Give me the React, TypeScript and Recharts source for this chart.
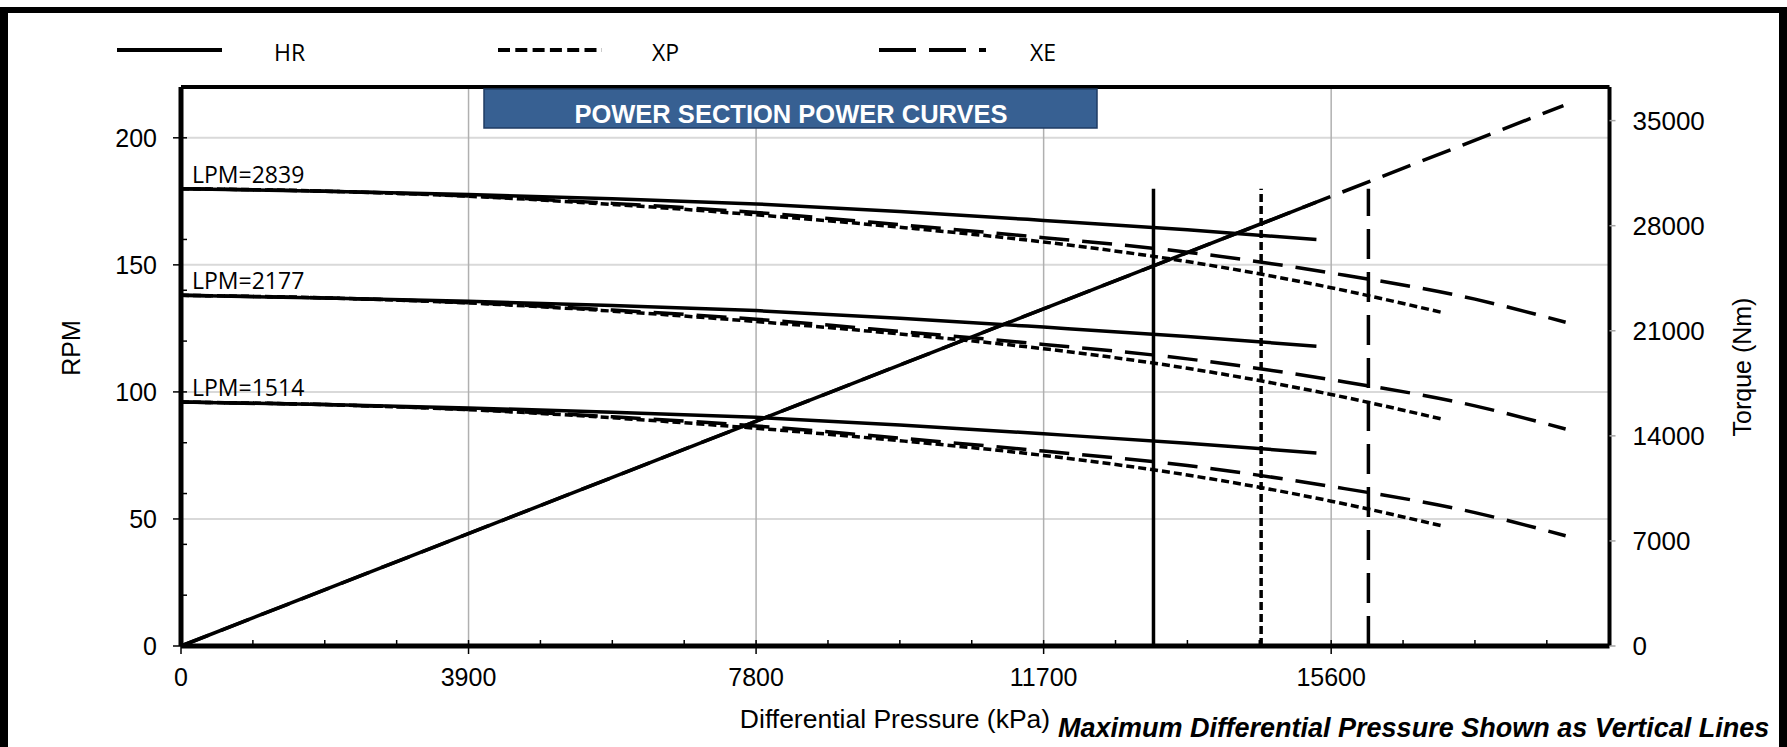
import React from 'react';
import { LineChart, Line, XAxis, YAxis, CartesianGrid, ReferenceLine } from 'recharts';

// pressure points (kPa)
const hrPressure = [0, 1950, 3900, 5850, 7800, 9750, 11700, 13650, 15400];
const xpPressure = [0, 1950, 3900, 5850, 7800, 9750, 11700, 13650, 15600, 17085];
const xePressure = [0, 1950, 3900, 5850, 7800, 9750, 11700, 13650, 15600, 17550, 18780];

// RPM per flow rate
const hrRpm2839 = [180, 179, 177.7, 176, 174, 171, 167.5, 163.8, 160];
const hrRpm2177 = [138, 137, 135.7, 134, 132, 129, 125.5, 121.8, 118];
const hrRpm1514 = [96, 95, 93.7, 92, 90, 87, 83.5, 79.8, 76];

const xpRpm2839 = [180, 179, 177, 173.8, 169.7, 164.8, 159, 151.3, 141, 131.4];
const xpRpm2177 = [138, 137, 135, 131.8, 127.7, 122.8, 117, 109.3, 99, 89.4];
const xpRpm1514 = [96, 95, 93, 89.8, 85.7, 80.8, 75, 67.3, 57, 47.4];

const xeRpm2839 = [180, 179, 177.1, 174.2, 170.6, 165.8, 160.7, 155, 146.8, 136.5, 127.4];
const xeRpm2177 = [138, 137, 135.1, 132.2, 128.6, 123.8, 118.7, 113, 104.8, 94.5, 85.4];
const xeRpm1514 = [96, 95, 93.1, 90.2, 86.6, 81.8, 76.7, 71, 62.8, 52.5, 43.4];

// torque lines (Nm)
const hrTorquePressure = [0, 15400];
const hrTorque = [0, 29570];
const xeTorquePressure = [0, 18750];
const xeTorque = [0, 36000];

// maximum differential pressure markers
const hrMaxPressure = 13190;
const xpMaxPressure = 14650;
const xeMaxPressure = 16105;
const maxLineRpm = [0, 180];

const lpmLabels = ['LPM=2839', 'LPM=2177', 'LPM=1514'];

const xMajorTicks = [0, 3900, 7800, 11700, 15600];
const xMinorTicks = [975, 1950, 2925, 3900, 4875, 5850, 6825, 7800, 8775, 9750, 10725, 11700, 12675, 13650, 14625, 15600, 16575, 17550, 18525];
const rpmMajorTicks = [0, 50, 100, 150, 200];
const rpmMinorTicks = [20, 40, 60, 80, 100, 120, 140, 160, 180, 200];
const torqueTicks = [0, 7000, 14000, 21000, 28000, 35000];

const zip = (p: number[], v: number[]) => p.map((x, i) => ({ p: x, v: v[i] }));
const vline = (x: number) => maxLineRpm.map((v) => ({ p: x, v }));

const XP_DASH = '8 4';
const XE_DASH = '30 13';
const FONT = '"Liberation Sans", Arial, sans-serif';

const uniq = (a: number[]) => Array.from(new Set(a)).sort((m, n) => m - n);

const XTick = (props: any) => {
  const { x, y, payload } = props;
  const v = payload.value;
  return (
    <g>
      {xMinorTicks.includes(v) && <line x1={x} x2={x} y1={y} y2={y - 6} stroke="#000" strokeWidth={1.5} />}
      {xMajorTicks.includes(v) && (
        <>
          <line x1={x} x2={x} y1={y} y2={y + 8} stroke="#000" strokeWidth={1.5} />
          <text x={x} y={y + 40} textAnchor="middle" fontSize={25} fontFamily={FONT} fill="#000">{v}</text>
        </>
      )}
    </g>
  );
};

const RpmTick = (props: any) => {
  const { x, y, payload } = props;
  const v = payload.value;
  return (
    <g>
      {rpmMinorTicks.includes(v) && <line x1={x} x2={x + 6} y1={y} y2={y} stroke="#000" strokeWidth={1.5} />}
      {rpmMajorTicks.includes(v) && (
        <>
          <line x1={x - 8} x2={x} y1={y} y2={y} stroke="#000" strokeWidth={1.5} />
          <text x={x - 24} y={y + 9} textAnchor="end" fontSize={25} fontFamily={FONT} fill="#000">{v}</text>
        </>
      )}
    </g>
  );
};

const lpmLabel = (text: string) => (props: any) => {
  if (props.index !== 0) return null;
  return (
    <text x={props.x + 11} y={props.y - 6} fontSize={23} fontFamily='"Open Sans", sans-serif' fill="#000">{text}</text>
  );
};

export default function App() {
  const solid = { stroke: '#000', strokeWidth: 3.5, dot: false, isAnimationActive: false, yAxisId: 'rpm' } as const;
  return (
    <div style={{ position: 'absolute', left: 0, top: 0, width: 1787, height: 747, overflow: 'hidden', background: '#fff' }}>
      <LineChart width={1787} height={747} margin={{ top: 87, right: 0, bottom: 61, left: 0 }}>
        <CartesianGrid yAxisId="rpm" vertical={false} horizontalValues={[50, 100, 150, 200]} stroke="#d9d9d9" strokeWidth={2} />
        <CartesianGrid yAxisId="rpm" horizontal={false} verticalValues={[3900, 7800, 11700, 15600]} stroke="#b0b0b0" strokeWidth={1.5} />
        <XAxis
          dataKey="p"
          type="number"
          domain={[0, 19375]}
          ticks={uniq([...xMajorTicks, ...xMinorTicks])}
          interval={0}
          height={40}
          tickSize={0}
          tickMargin={0}
          tickLine={false}
          tick={<XTick />}
          axisLine={{ stroke: '#000', strokeWidth: 5 }}
        />
        <YAxis
          yAxisId="rpm"
          type="number"
          domain={[0, 220]}
          ticks={uniq([...rpmMajorTicks, ...rpmMinorTicks])}
          interval={0}
          width={181}
          tickSize={0}
          tickMargin={0}
          tickLine={false}
          tick={<RpmTick />}
          axisLine={{ stroke: '#000', strokeWidth: 5 }}
        />
        <YAxis
          yAxisId="torque"
          orientation="right"
          type="number"
          domain={[0, 37240]}
          ticks={torqueTicks}
          interval={0}
          width={177.5}
          tickSize={6}
          tickMargin={17}
          tickLine={{ stroke: '#a6a6a6', strokeWidth: 1.5 }}
          tick={{ fontSize: 26, fontFamily: FONT, fill: '#000' }}
          axisLine={{ stroke: '#000', strokeWidth: 4 }}
        />
        <ReferenceLine yAxisId="rpm" y={220} stroke="#000" strokeWidth={4} />

        <Line {...solid} data={zip(hrPressure, hrRpm2839)} dataKey="v" type="monotone" label={lpmLabel(lpmLabels[0])} />
        <Line {...solid} data={zip(hrPressure, hrRpm2177)} dataKey="v" type="monotone" label={lpmLabel(lpmLabels[1])} />
        <Line {...solid} data={zip(hrPressure, hrRpm1514)} dataKey="v" type="monotone" label={lpmLabel(lpmLabels[2])} />

        <Line {...solid} data={zip(xpPressure, xpRpm2839)} dataKey="v" type="monotone" strokeDasharray={XP_DASH} />
        <Line {...solid} data={zip(xpPressure, xpRpm2177)} dataKey="v" type="monotone" strokeDasharray={XP_DASH} />
        <Line {...solid} data={zip(xpPressure, xpRpm1514)} dataKey="v" type="monotone" strokeDasharray={XP_DASH} />

        <Line {...solid} data={zip(xePressure, xeRpm2839)} dataKey="v" type="monotone" strokeDasharray={XE_DASH} />
        <Line {...solid} data={zip(xePressure, xeRpm2177)} dataKey="v" type="monotone" strokeDasharray={XE_DASH} />
        <Line {...solid} data={zip(xePressure, xeRpm1514)} dataKey="v" type="monotone" strokeDasharray={XE_DASH} />

        <Line {...solid} yAxisId="torque" data={zip(xeTorquePressure, xeTorque)} dataKey="v" type="linear" strokeDasharray={XE_DASH} />
        <Line {...solid} yAxisId="torque" data={zip(hrTorquePressure, hrTorque)} dataKey="v" type="linear" />

        <Line {...solid} data={vline(hrMaxPressure)} dataKey="v" type="linear" />
        <Line {...solid} data={vline(xpMaxPressure)} dataKey="v" type="linear" strokeDasharray={XP_DASH} />
        <Line {...solid} data={vline(xeMaxPressure)} dataKey="v" type="linear" strokeDasharray={XE_DASH} />
      </LineChart>

      <svg width={1787} height={747} style={{ position: 'absolute', left: 0, top: 0, pointerEvents: 'none' }}>
        {/* outer frame */}
        <rect x={0} y={7} width={1787} height={6} fill="#000" />
        <rect x={0} y={7} width={8} height={740} fill="#000" />
        <rect x={1779} y={7} width={8} height={740} fill="#000" />

        {/* legend */}
        <line x1={117} x2={222} y1={50} y2={50} stroke="#000" strokeWidth={4} />
        <text x={274} y={61} fontSize={23} fontFamily='"Open Sans", sans-serif'>HR</text>
        <line x1={498} x2={602} y1={50} y2={50} stroke="#000" strokeWidth={4} strokeDasharray="12 5.3" />
        <text x={652} y={61} fontSize={23} fontFamily='"Open Sans", sans-serif'>XP</text>
        <line x1={879} x2={986} y1={50} y2={50} stroke="#000" strokeWidth={4} strokeDasharray="37 13" />
        <text x={1030} y={61} fontSize={23} fontFamily='"Open Sans", sans-serif'>XE</text>

        {/* title box */}
        <rect x={484} y={89} width={613} height={39} fill="#376092" stroke="#1f3b63" strokeWidth={1.5} />
        <text x={791} y={123} textAnchor="middle" fontSize={25.5} fontWeight="bold" fontFamily={FONT} fill="#fff">POWER SECTION POWER CURVES</text>

        {/* axis titles */}
        <text x={71} y={348} transform="rotate(-90 71 348)" textAnchor="middle" dominantBaseline="central" fontSize={25} fontFamily={FONT}>RPM</text>
        <text x={1742} y={367} transform="rotate(-90 1742 367)" textAnchor="middle" dominantBaseline="central" fontSize={25} fontFamily={FONT}>Torque (Nm)</text>
        <text x={895} y={728} textAnchor="middle" fontSize={26.5} fontFamily={FONT}>Differential Pressure (kPa)</text>
        <text x={1058} y={737} fontSize={27} fontWeight="bold" fontStyle="italic" fontFamily={FONT}>Maximum Differential Pressure Shown as Vertical Lines</text>
      </svg>
    </div>
  );
}
